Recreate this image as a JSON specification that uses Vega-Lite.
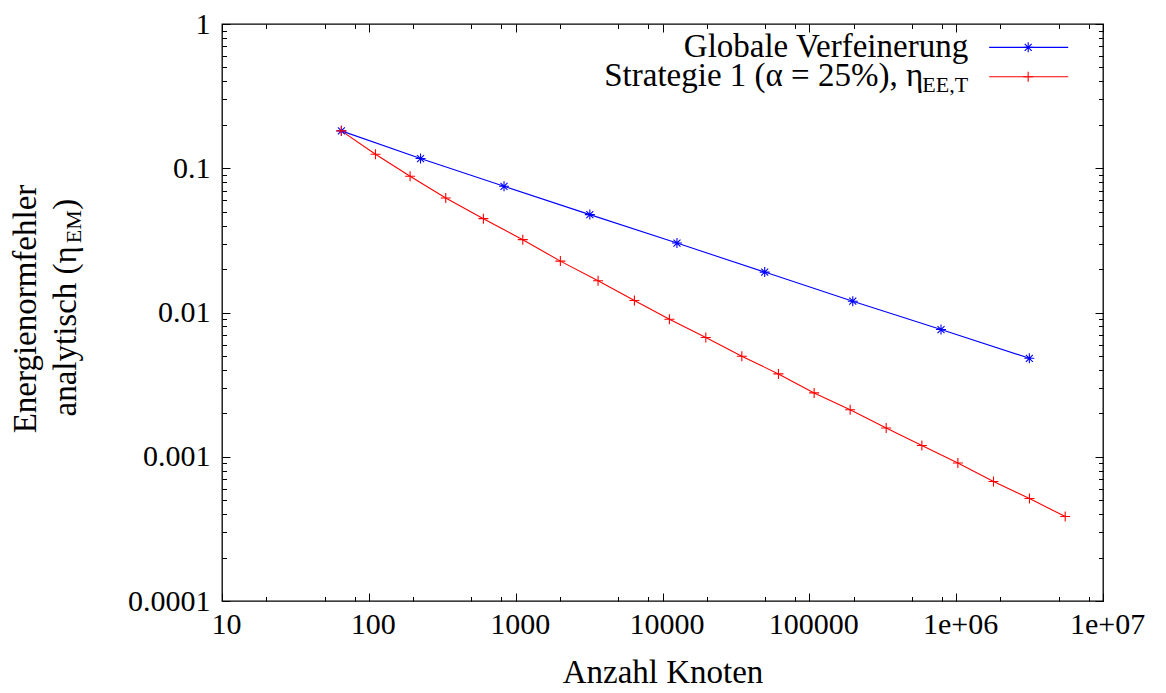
{
  "$schema": "https://vega.github.io/schema/vega-lite/v6.json",
  "width": 881,
  "height": 577,
  "autosize": {"type": "none"},
  "padding": {"left": 222, "top": 24, "right": 63, "bottom": 92},
  "background": "white",
  "config": {
    "view": {"stroke": "black", "strokeWidth": 1.3},
    "font": "Liberation Serif",
    "axis": {
      "domain": false, "grid": false,
      "labelFont": "Liberation Serif", "titleFont": "Liberation Serif",
      "labelColor": "black", "titleColor": "black", "tickColor": "black",
      "tickWidth": 1, "labelFontSize": 30, "titleFontSize": 33,
      "titleFontWeight": "normal", "labelOverlap": false, "labelFlush": false
    },
    "text": {"font": "Liberation Serif", "color": "black"}
  },
  "datasets": {
    "mesh": [
      {"knoten": 65, "fehler": 0.1816, "serie": "global"},
      {"knoten": 225, "fehler": 0.1168, "serie": "global"},
      {"knoten": 833, "fehler": 0.0750, "serie": "global"},
      {"knoten": 3201, "fehler": 0.04771, "serie": "global"},
      {"knoten": 12545, "fehler": 0.03029, "serie": "global"},
      {"knoten": 49665, "fehler": 0.01906, "serie": "global"},
      {"knoten": 197633, "fehler": 0.01198, "serie": "global"},
      {"knoten": 788481, "fehler": 0.00762, "serie": "global"},
      {"knoten": 3149825, "fehler": 0.004816, "serie": "global"},
      {"knoten": 65, "fehler": 0.1816, "serie": "strategie1"},
      {"knoten": 111, "fehler": 0.1251, "serie": "strategie1"},
      {"knoten": 191, "fehler": 0.08799, "serie": "strategie1"},
      {"knoten": 334, "fehler": 0.06219, "serie": "strategie1"},
      {"knoten": 603, "fehler": 0.04473, "serie": "strategie1"},
      {"knoten": 1118, "fehler": 0.03198, "serie": "strategie1"},
      {"knoten": 2016, "fehler": 0.02271, "serie": "strategie1"},
      {"knoten": 3641, "fehler": 0.01661, "serie": "strategie1"},
      {"knoten": 6436, "fehler": 0.01212, "serie": "strategie1"},
      {"knoten": 11143, "fehler": 0.008985, "serie": "strategie1"},
      {"knoten": 19724, "fehler": 0.006706, "serie": "strategie1"},
      {"knoten": 34696, "fehler": 0.004972, "serie": "strategie1"},
      {"knoten": 61590, "fehler": 0.003752, "serie": "strategie1"},
      {"knoten": 107820, "fehler": 0.002770, "serie": "strategie1"},
      {"knoten": 189640, "fehler": 0.002120, "serie": "strategie1"},
      {"knoten": 333660, "fehler": 0.001583, "serie": "strategie1"},
      {"knoten": 583940, "fehler": 0.001198, "serie": "strategie1"},
      {"knoten": 1027000, "fehler": 0.000904, "serie": "strategie1"},
      {"knoten": 1795600, "fehler": 0.000674, "serie": "strategie1"},
      {"knoten": 3157000, "fehler": 0.000513, "serie": "strategie1"},
      {"knoten": 5527000, "fehler": 0.000385, "serie": "strategie1"}
    ]
  },
  "data": {"name": "mesh"},
  "layer": [
    {
      "mark": {"type": "line", "strokeWidth": 1.1},
      "encoding": {
        "x": {
          "field": "knoten", "type": "quantitative",
          "scale": {"type": "log", "domain": [10, 10000000], "nice": false},
          "axis": {
            "orient": "bottom",
            "values": [10, 100, 1000, 10000, 100000, 1000000, 10000000],
            "tickSize": -8, "labelPadding": 16, "labelOffset": 4,
            "labelExpr": "replace(format(datum.value, '~g'), 'e+', 'e+0')",
            "title": "Anzahl Knoten", "titleX": 440.5, "titleY": 81,
            "titleAlign": "center", "titleBaseline": "alphabetic"
          }
        },
        "y": {
          "field": "fehler", "type": "quantitative",
          "scale": {"type": "log", "domain": [0.0001, 1], "nice": false},
          "axis": {
            "orient": "left",
            "values": [0.0001, 0.001, 0.01, 0.1, 1],
            "tickSize": -8, "labelPadding": 20,
            "labelExpr": "format(datum.value, '~g')",
            "title": "Energienormfehler", "titleX": -187, "titleY": 284.5,
            "titleAngle": 270, "titleAlign": "center", "titleBaseline": "alphabetic"
          }
        },
        "color": {
          "field": "serie", "type": "nominal",
          "scale": {"domain": ["global", "strategie1"], "range": ["#0000ff", "#ff0000"]},
          "legend": null
        }
      }
    },
    {
      "mark": {"type": "point", "filled": false, "strokeWidth": 1.1, "size": 100, "opacity": 1},
      "encoding": {
        "x": {
          "field": "knoten", "type": "quantitative",
          "scale": {"type": "log", "domain": [10, 10000000], "nice": false},
          "axis": {
            "orient": "bottom",
            "values": [20, 50, 80, 200, 500, 800, 2000, 5000, 8000, 20000, 50000, 80000, 200000, 500000, 800000, 2000000, 5000000, 8000000],
            "tickSize": -4.5, "labels": false, "title": null
          }
        },
        "y": {
          "field": "fehler", "type": "quantitative",
          "scale": {"type": "log", "domain": [0.0001, 1], "nice": false},
          "axis": {
            "orient": "left",
            "values": [0.0002, 0.0003, 0.0004, 0.0005, 0.0006, 0.0007, 0.0008, 0.0009, 0.002, 0.003, 0.004, 0.005, 0.006, 0.007, 0.008, 0.009, 0.02, 0.03, 0.04, 0.05, 0.06, 0.07, 0.08, 0.09, 0.2, 0.3, 0.4, 0.5, 0.6, 0.7, 0.8, 0.9],
            "tickSize": -4.5, "labels": false,
            "title": "analytisch (η", "titleX": -147, "titleY": 221.7,
            "titleAngle": 270, "titleAlign": "right", "titleBaseline": "alphabetic"
          }
        },
        "color": {
          "field": "serie", "type": "nominal",
          "scale": {"domain": ["global", "strategie1"], "range": ["#0000ff", "#ff0000"]},
          "legend": null
        },
        "shape": {
          "field": "serie", "type": "nominal",
          "scale": {"domain": ["global", "strategie1"], "range": ["M-1,0L1,0M0,-1L0,1M-0.7,-0.7L0.7,0.7M-0.7,0.7L0.7,-0.7", "M-1,0L1,0M0,-1L0,1"]},
          "legend": null
        }
      }
    },
    {
      "data": {"values": [{}]},
      "mark": {"type": "rule", "color": "#0000ff", "strokeWidth": 1.1},
      "encoding": {
        "x": {
          "datum": 1678000, "type": "quantitative",
          "scale": {"type": "log", "domain": [10, 10000000], "nice": false},
          "axis": {
            "orient": "top",
            "values": [10, 100, 1000, 10000, 100000, 1000000, 10000000],
            "tickSize": -8, "labels": false, "title": null
          }
        },
        "x2": {"datum": 5794000},
        "y": {
          "datum": 0.689, "type": "quantitative",
          "scale": {"type": "log", "domain": [0.0001, 1], "nice": false},
          "axis": {
            "orient": "right",
            "values": [0.0001, 0.001, 0.01, 0.1, 1],
            "tickSize": -8, "labels": false, "title": null
          }
        }
      }
    },
    {
      "data": {"values": [{}]},
      "mark": {"type": "rule", "color": "#ff0000", "strokeWidth": 1.1},
      "encoding": {
        "x": {
          "datum": 1678000, "type": "quantitative",
          "scale": {"type": "log", "domain": [10, 10000000], "nice": false},
          "axis": {
            "orient": "top",
            "values": [20, 50, 80, 200, 500, 800, 2000, 5000, 8000, 20000, 50000, 80000, 200000, 500000, 800000, 2000000, 5000000, 8000000],
            "tickSize": -4.5, "labels": false, "title": null
          }
        },
        "x2": {"datum": 5794000},
        "y": {
          "datum": 0.4306, "type": "quantitative",
          "scale": {"type": "log", "domain": [0.0001, 1], "nice": false},
          "axis": {
            "orient": "right",
            "values": [0.0002, 0.0003, 0.0004, 0.0005, 0.0006, 0.0007, 0.0008, 0.0009, 0.002, 0.003, 0.004, 0.005, 0.006, 0.007, 0.008, 0.009, 0.02, 0.03, 0.04, 0.05, 0.06, 0.07, 0.08, 0.09, 0.2, 0.3, 0.4, 0.5, 0.6, 0.7, 0.8, 0.9],
            "tickSize": -4.5, "labels": false, "title": null
          }
        }
      }
    },
    {
      "data": {"values": [{}]},
      "mark": {"type": "point", "filled": false, "strokeWidth": 1.1, "size": 100, "opacity": 1, "color": "#0000ff", "shape": "M-1,0L1,0M0,-1L0,1M-0.7,-0.7L0.7,0.7M-0.7,0.7L0.7,-0.7"},
      "encoding": {
        "x": {"datum": 3094000, "type": "quantitative", "scale": {"type": "log", "domain": [10, 10000000], "nice": false}, "axis": null},
        "y": {
          "datum": 0.689, "type": "quantitative",
          "scale": {"type": "log", "domain": [0.0001, 1], "nice": false},
          "axis": {
            "orient": "left", "ticks": false, "labels": false, "values": [],
            "title": "EM", "titleFontSize": 22, "titleX": -142, "titleY": 218.7,
            "titleAngle": 270, "titleAlign": "left", "titleBaseline": "alphabetic"
          }
        }
      }
    },
    {
      "data": {"values": [{}]},
      "mark": {"type": "point", "filled": false, "strokeWidth": 1.1, "size": 100, "opacity": 1, "color": "#ff0000", "shape": "M-1,0L1,0M0,-1L0,1"},
      "encoding": {
        "x": {"datum": 3094000, "type": "quantitative", "scale": {"type": "log", "domain": [10, 10000000], "nice": false}, "axis": null},
        "y": {
          "datum": 0.4306, "type": "quantitative",
          "scale": {"type": "log", "domain": [0.0001, 1], "nice": false},
          "axis": {
            "orient": "left", "ticks": false, "labels": false, "values": [],
            "title": ")", "titleX": -147, "titleY": 185.2,
            "titleAngle": 270, "titleAlign": "left", "titleBaseline": "alphabetic"
          }
        }
      }
    },
    {
      "data": {"values": [{}]},
      "mark": {"type": "text", "text": "Globale Verfeinerung", "align": "right", "baseline": "alphabetic", "dx": -21, "dy": 9.5, "fontSize": 33},
      "encoding": {
        "x": {"datum": 1678000, "type": "quantitative", "axis": null},
        "y": {"datum": 0.689, "type": "quantitative", "axis": null}
      }
    },
    {
      "data": {"values": [{}]},
      "mark": {"type": "text", "text": "Strategie 1 (α = 25%), η", "align": "right", "baseline": "alphabetic", "dx": -66, "dy": 9.5, "fontSize": 33},
      "encoding": {
        "x": {"datum": 1678000, "type": "quantitative", "axis": null},
        "y": {"datum": 0.4306, "type": "quantitative", "axis": null}
      }
    },
    {
      "data": {"values": [{}]},
      "mark": {"type": "text", "text": "EE,T", "align": "right", "baseline": "alphabetic", "dx": -21, "dy": 15.5, "fontSize": 22},
      "encoding": {
        "x": {"datum": 1678000, "type": "quantitative", "axis": null},
        "y": {"datum": 0.4306, "type": "quantitative", "axis": null}
      }
    }
  ],
  "resolve": {"axis": {"x": "independent", "y": "independent"}}
}
